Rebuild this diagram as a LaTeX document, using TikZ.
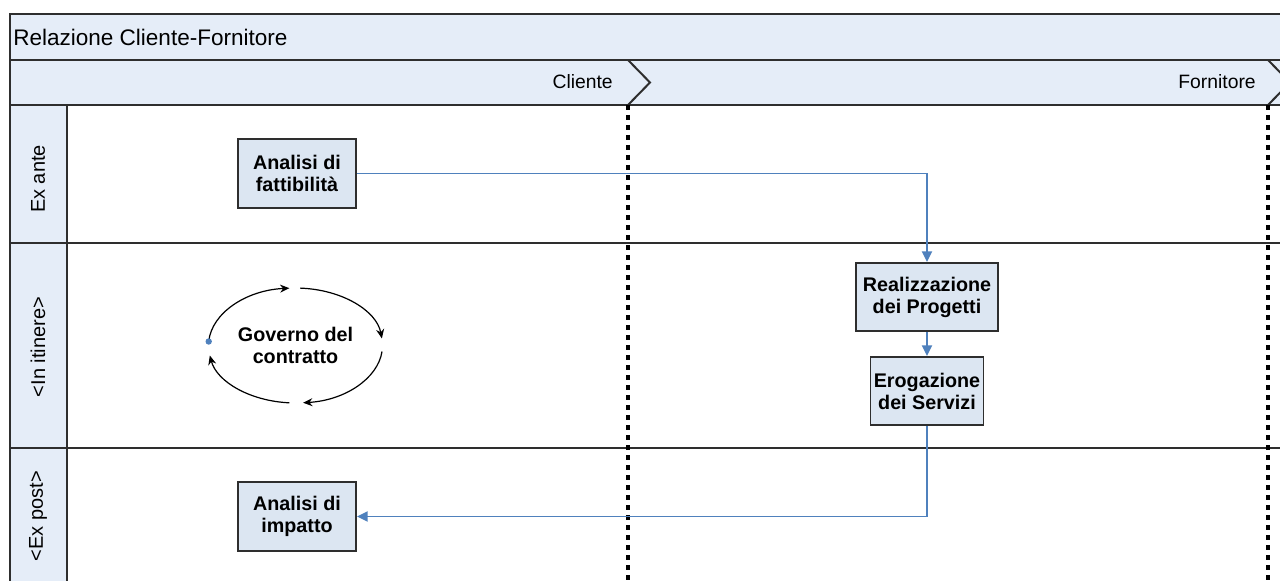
\documentclass[tikz,border=0pt]{standalone}
\usepackage{fontspec}
\setmainfont{Liberation Sans}
\usetikzlibrary{arrows.meta}
\definecolor{bandfill}{HTML}{E5EDF8}
\definecolor{boxfill}{HTML}{DCE6F2}
\definecolor{frameline}{HTML}{2E2E2E}
\definecolor{flowblue}{HTML}{4F81BD}
\begin{document}
\begin{tikzpicture}[x=0.75pt,y=-0.75pt,
  frame/.style={draw=frameline,line width=1.5pt},
  stepbox/.style={draw=frameline,fill=boxfill,line width=1.4pt,
    font=\fontsize{14.8}{16.5}\selectfont\bfseries,align=center,inner sep=0pt},
  flow/.style={draw=flowblue,line width=1.4pt,-{Triangle[length=8pt,width=7.5pt]}},
  cyc/.style={draw=black,line width=0.9pt,-{Stealth[length=7pt,width=6pt]}},
  lanelabel/.style={font=\fontsize{15}{16}\selectfont,rotate=90,inner sep=0pt},
  sep/.style={draw=black,line width=2.7pt,dash pattern=on 4pt off 3.5pt},
  hdr/.style={font=\fontsize{14.5}{16}\selectfont,inner sep=0pt}
]
\useasboundingbox (0,0) rectangle (1280,581);
\clip (0,0) rectangle (1280,581);
\fill[white] (0,0) rectangle (1280,581);

% pool header, lane header row and lane label column
\fill[bandfill] (10,14) rectangle (1300,105);
\fill[bandfill] (10,105) rectangle (67,600);
\draw[frame] (10,600) -- (10,14) -- (1300,14);
\draw[frame] (10,60) -- (1300,60);
\draw[frame] (10,105) -- (1300,105);
\draw[frame] (67,105) -- (67,600);
\draw[frame] (10,243) -- (1300,243);
\draw[frame] (10,448) -- (1300,448);

\node[hdr,anchor=west,font=\fontsize{16.9}{18}\selectfont] (title) at (13,37) {Relazione Cliente-Fornitore};
\node[hdr,anchor=east] (cli) at (613,82) {Cliente};
\node[hdr,anchor=east] (forn) at (1256,82) {Fornitore};

% phase chevrons and phase boundaries
\draw[frame] (628,60) -- (650,82.5) -- (628,105);
\draw[frame] (1268,60) -- (1290,82.5) -- (1268,105);
\draw[sep] (628,105) -- (628,600);
\draw[sep] (1268,105) -- (1268,600);

% lane labels
\node[lanelabel] (ante) at (38,179) {Ex ante};
\node[lanelabel] (itin) at (38,347) {<In itinere>};
\node[lanelabel] (post) at (38,516) {<Ex post>};

% activities
\node[stepbox,minimum width=88.5pt,minimum height=51.75pt] (fatt) at (297,173.5) {Analisi di\\fattibilità};
\node[stepbox,minimum width=106.5pt,minimum height=51pt] (real) at (927,297) {Realizzazione\\dei Progetti};
\node[stepbox,minimum width=84.75pt,minimum height=51pt] (erog) at (927,391) {Erogazione\\dei Servizi};
\node[stepbox,minimum width=88.5pt,minimum height=51.75pt] (imp) at (297,516.5) {Analisi di\\impatto};

\draw[flow] (fatt.east) -| (real.north);
\draw[flow] (real.south) -- (erog.north);
\draw[flow] (erog.south) |- (imp.east);

% contract governance cycle
\node[font=\fontsize{14.8}{16.5}\selectfont\bfseries,align=center,inner sep=0pt] (gov) at (295.5,345.5) {Governo del\\contratto};
\draw[cyc] ([shift={(176:65.25pt and 43.1pt)}]gov.center) arc[start angle=176,end angle=94,x radius=65.25pt,y radius=43.1pt];
\draw[cyc] ([shift={(87:65.25pt and 43.1pt)}]gov.center) arc[start angle=87,end angle=7,x radius=65.25pt,y radius=43.1pt];
\draw[cyc] ([shift={(-6:65.25pt and 43.1pt)}]gov.center) arc[start angle=-6,end angle=-85,x radius=65.25pt,y radius=43.1pt];
\draw[cyc] ([shift={(-94:65.25pt and 43.1pt)}]gov.center) arc[start angle=-94,end angle=-170,x radius=65.25pt,y radius=43.1pt];
\fill[flowblue] ([shift={(176:65.25pt and 43.1pt)}]gov.center) circle (2.4pt);
\end{tikzpicture}
\end{document}
